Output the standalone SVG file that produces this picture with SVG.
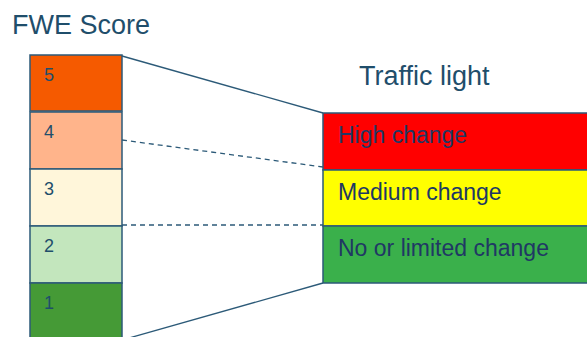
<svg xmlns="http://www.w3.org/2000/svg" width="587" height="337" viewBox="0 0 587 337">
<style>
.box{stroke:#2c5a78;stroke-width:1.5}
.num{font-family:"Liberation Sans",Arial,sans-serif;font-size:18px;fill:#1f4e6b}
.lbl{font-family:"Liberation Sans",Arial,sans-serif;font-size:23px;fill:#203864}
.title{font-family:"Liberation Sans",Arial,sans-serif;fill:#1f4e6b;font-size:27px}
.con{stroke:#2c5a78;stroke-width:1.3;fill:none}
.dash{stroke-dasharray:5,4}
</style>
<rect width="587" height="337" fill="#fff"/>
<text class="title" x="12" y="34">FWE Score</text>
<text class="title" x="359" y="85">Traffic light</text>
<g id="connectors">
<line class="con" x1="122" y1="56" x2="323" y2="113"/>
<line class="con dash" x1="122" y1="140" x2="323" y2="167"/>
<line class="con dash" x1="122" y1="225" x2="323" y2="225"/>
<line class="con" x1="122" y1="340" x2="323" y2="283"/>
</g>
<g id="score5"><rect class="box" x="30" y="55" width="92" height="56" fill="#f55a00"/><text class="num" x="44" y="81">5</text></g>
<g id="score4"><rect class="box" x="30" y="112" width="92" height="57" fill="#ffb48b"/><text class="num" x="44" y="138">4</text></g>
<g id="score3"><rect class="box" x="30" y="169" width="92" height="57" fill="#fff6da"/><text class="num" x="44" y="195">3</text></g>
<g id="score2"><rect class="box" x="30" y="226" width="92" height="57" fill="#c3e6bd"/><text class="num" x="44" y="252">2</text></g>
<g id="score1"><rect class="box" x="30" y="283" width="92" height="60" fill="#459a36"/><text class="num" x="44" y="309">1</text></g>
<g id="high"><rect class="box" x="323" y="113" width="270" height="57" fill="#ff0000"/><text class="lbl" x="338" y="143">High change</text></g>
<g id="medium"><rect class="box" x="323" y="170" width="270" height="56" fill="#ffff00"/><text class="lbl" x="338" y="200">Medium change</text></g>
<g id="low"><rect class="box" x="323" y="226" width="270" height="57" fill="#3ab04b"/><text class="lbl" x="338" y="256">No or limited change</text></g>
</svg>
